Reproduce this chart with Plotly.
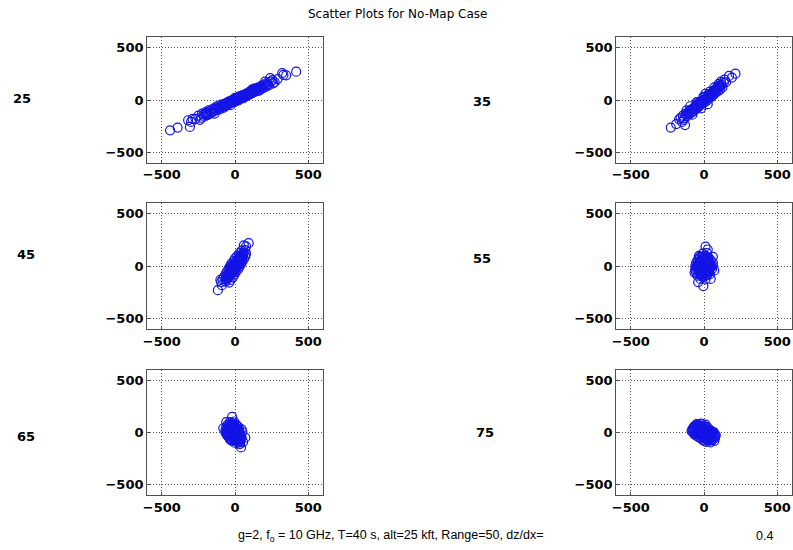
import plotly.graph_objects as go

# ---------------- data ----------------
panel_labels = ["25", "35", "45", "55", "65", "75"]
tick_vals = [-500, 0, 500]
tick_text = ["\u2212500", "0", "500"]

x25 = [-443, -392, -308, -320, -300, -290, 322, 349, 417, 330, 255, 270, 240, 225, 290,
       -270, -250, -240, -225, -210, -200, -190, -180, -175, -160, -150, -145, -130, -125,
       -115, -100, -95, -85, -75, -70, -60, -50, -45, -35, -25, -20, -10, 0, 5, 15, 20, 30,
       35, 45, 50, 60, 70, 75, 85, 95, 100, 110, 120, 130, 140, 150, 160, 170, 180, 190, 200,
       210, 220, 230, 245, 260, 205, -230, -215, -55, -5, 40, 80, 115, 165, -140, -105, 0,
       20, -30, 55, 130,
       -150, -140, -120, -110, -90, -80, -65, -40, -30, -15, -5, 10, 25, 25, 40, 55, 65, 80,
       90, 105, 120, 135, 145, 155, 175, 185, 195, 215, -195, -185, -165, -205, -60, -20,
       10, 65, 100]
y25 = [-290, -264, -258, -194, -210, -180, 258, 236, 271, 240, 190, 170, 210, 150, 200,
       -180, -150, -190, -130, -160, -115, -145, -100, -135, -120, -85, -110, -95, -60,
       -80, -70, -45, -65, -40, -60, -30, -45, -15, -30, -5, -25, 5, -10, 15, 0, 25, 10,
       35, 20, 45, 30, 55, 35, 65, 50, 80, 60, 95, 75, 110, 85, 120, 100, 135, 110, 150,
       125, 165, 140, 175, 160, 175, -170, -140, -55, -20, 40, 45, 100, 90, -130, -90, 20,
       -5, -50, 15, 110,
       -110, -80, -70, -90, -50, -75, -35, -35, -10, -15, 0, 10, 5, 30, 15, 35, 45, 60,
       55, 75, 70, 95, 100, 110, 115, 130, 125, 145, -125, -130, -105, -135, -50, -10,
       -5, 30, 65]

x35 = [-227, -190, -170, -150, 214, 190, 170, 140, -130,
       -160, -145, -135, -125, -115, -105, -100, -90, -85, -75, -70, -60, -55, -45, -40,
       -30, -25, -15, -10, 0, 5, 15, 20, 30, 35, 45, 50, 60, 65, 75, 80, 90, 95, 105, 110,
       120, 125, 135, 100, -80, -120, 70, 10, -20, 40, -50, -95, 115, 150, -140, 25, -5,
       -110, -95, -80, -65, -50, -35, -20, -5, 10, 25, 40, 55, 70, 85, 100, 115, -60, -35,
       -10, 15, 40, 65, 90, -120, -75, -45, 0, 30, 55, 80, 110]
y35 = [-264, -230, -185, -210, 252, 215, 230, 195, -240,
       -170, -150, -175, -130, -155, -110, -135, -95, -120, -80, -105, -60, -85, -45, -70,
       -25, -50, -10, -35, 5, -20, 20, -5, 40, 15, 55, 30, 75, 50, 95, 70, 110, 85, 130, 100,
       150, 120, 165, 155, -140, -100, 120, 60, -80, 80, -20, -60, 175, 170, -190, -40, 30,
       -125, -100, -90, -75, -55, -40, -20, -5, 10, 25, 45, 65, 80, 100, 115, 135, -90, -60,
       -15, 5, 60, 90, 125, -140, -110, -30, 25, 55, 45, 100, 140]

x45 = [-117, 93, 75, -90, -100, 60,
       -95, -65, -40, -85, -55, -30, -75, -45, -15, -65, -35, -5, -55, -25, 5, -45, -10, 20,
       -35, 0, 30, -25, 10, 40, -10, 25, 50, 0, 35, 60, 15, 45, 70, 30, 55, 75, 45, 70,
       -20, 15, -50, 40, -30, 20, -60, 0, 30, 55, -15, 10,
       -60, -50, -40, -35, -30, -20, -15, -5, 0, 5, 15, 20, 25, 35, 40, 45, 50, 55, 60,
       -45, -25, -10, -30, -5, 10, 25, 30, 50, -55, 20, 0, 35,
       -50, -40, -45, -35, -25, -20, -15, -10, -5, 0, 5, 10, 10, 20, 15, 25, 30, 35, 40,
       45, 30, 50, -20, -35, 20]
y45 = [-227, 220, 190, -180, -130, 200,
       -150, -145, -155, -125, -120, -130, -100, -95, -105, -75, -70, -80, -50, -45, -55,
       -25, -20, -30, 0, 5, -5, 25, 30, 20, 50, 55, 45, 75, 80, 70, 100, 105, 95, 125, 130,
       120, 150, 155, -60, 40, -110, 90, -10, 60, -130, -30, 15, 110, 15, -10,
       -120, -100, -90, -80, -60, -45, -30, -15, -5, 10, 20, 35, 45, 65, 75, 90, 100, 115, 130,
       -70, -75, -55, -25, 25, 50, 70, 100, 75, -85, 5, -40, 40,
       -110, -100, -80, -65, -55, -60, -40, -35, -20, -25, 0, 5, 25, 20, 40, 30, 55, 50, 65,
       80, 85, 90, -10, -45, 45]

x55 = [-5, 10, 25, -40, 60, -65, 70, 45,
       -25, 10, -45, -15, 20, -55, -25, 5, 35, -60, -30, 0, 30, 55, -60, -30, 0, 30, 60,
       -55, -25, 5, 35, 60, -45, -15, 15, 45, -30, 0, 30, -10, 20,
       -15, 15, -40, 40, 0, 0,
       -40, -20, 0, 20, 40, -45, -20, 10, 35, -45, -15, 15, 45, -45, -20, 20, 45, -40, -15,
       15, 40, -30, 0, 25, -10, 10, -35, -5, 25, -25,
       -30, -10, 10, 25, -35, -5, 20, -35, -10, 10, 35, -30, -5, 25, -25, 0, 20, -20, 15,
       -15, 15, -50, 50, 0, 0]
y55 = [-188, 187, 160, -150, 90, -60, -40, -120,
       -120, -125, -90, -95, -85, -60, -55, -65, -60, -30, -25, -35, -30, -25, 0, 5, -5, 0, 5,
       30, 35, 25, 30, 35, 60, 55, 65, 60, 90, 95, 85, 120, 125,
       -10, 15, 15, -15, 45, -75,
       -75, -70, -80, -70, -75, -45, -40, -45, -40, -15, -20, -15, -10, 15, 20, 10, 15, 45, 40,
       45, 45, 75, 70, 75, -100, 100, 100, 0, -5, -5,
       -60, -55, -60, -50, -30, -30, -30, 0, 10, -10, 5, 30, 30, 30, 55, 55, 60, -85, -90,
       85, 85, -5, 0, -60, 20]

x65 = [41, 30, -60, -80, 70, -20, 55,
       0, 30, -25, 5, 35, -40, -10, 20, 45, -55, -25, 5, 35, -65, -35, -5, 25, 50,
       -65, -35, -5, 25, 45, -60, -30, 0, 25, -50, -20, 10, -35, -5,
       -20, 10, -45, 15, -10, -30,
       -20, 10, -35, -10, 15, 40, -45, -15, 15, 40, -50, -20, 10, 35, -50, -20, 5, 30, -45,
       -15, 10, -40, -10, 15, -25, -60, -55, 25, 0, -30,
       -25, 0, 25, -35, -10, 20, -40, -15, 15, -35, -10, 15, -30, -5, -15, -20, 5, 30, -45,
       0, -5, 20, 35, -30, 5]
y65 = [-143, -110, 100, 40, -50, 150, -90,
       -100, -95, -75, -70, -80, -50, -45, -55, -50, -25, -20, -30, -25, 0, 5, -5, 0, 5,
       25, 30, 20, 25, 30, 50, 55, 45, 50, 75, 80, 70, 100, 105,
       10, -15, -10, 35, 60, -40,
       -80, -85, -65, -60, -65, -65, -35, -35, -40, -40, -10, -5, -5, -10, 15, 20, 10, 15, 40,
       40, 35, 65, 65, 60, 90, -10, 30, -80, 0, 10,
       -60, -50, -55, -25, -20, -25, 0, 5, 0, 25, 25, 25, 50, 50, 75, -40, -30, -30, 55,
       -75, 85, -95, -110, -10, 15]

x75 = [-50, -20, 10, -70, -40, -10, 20, -80, -50, -20, 10, 40, -80, -50, -20, 10, 40, 65,
       -65, -35, -5, 25, 55, 80, -40, -10, 20, 50, 75, -10, 20, 50, 70, 15, 45,
       -60, 0, 30, -30, 60, -75,
       -60, -35, -5, -65, -35, -5, 25, -65, -35, -5, 25, 50, -65, -35, -5, 25, 50, 70,
       -50, -20, 10, 40, 65, -25, 5, 35, 60, 0, 30, -85,
       -50, -20, 10, -50, -20, 10, 35, -55, -25, 5, 35, 60, -40, -10, 20, 45, 70, -10, 15,
       45, 20, 50, -75, -45, 75]
y75 = [80, 85, 75, 55, 60, 50, 55, 30, 35, 25, 30, 25, 5, 10, 0, 5, 0, 5,
       -20, -15, -25, -20, -15, -25, -45, -40, -50, -45, -50, -70, -65, -75, -80, -90, -95,
       -5, 15, -35, 45, -60, 40,
       65, 70, 65, 45, 45, 40, 40, 20, 20, 15, 15, 10, -10, -5, -10, -5, -5, -10,
       -30, -30, -35, -30, -35, -55, -55, -60, -65, -80, -80, 15,
       55, 55, 50, 30, 35, 25, 25, 5, 5, 0, 5, 0, -20, -20, -15, -20, -25, -45, -45,
       -50, -70, -70, 20, 70, -40]

series_x = [x25, x35, x45, x55, x65, x75]
series_y = [y25, y35, y45, y55, y65, y75]

# ---------------- layout geometry ----------------
W, H = 793, 550
col_dom = [[144 / W, 321 / W], [616 / W, 1.0]]
row_dom = [[1 - 162.7 / H, 1 - 37.3 / H],
           [1 - 329.3 / H, 1 - 203.3 / H],
           [1 - 495.3 / H, 1 - 369.7 / H]]
label_pos = [(18, 99), (481, 102), (22, 254), (481, 258), (22, 436), (484, 432)]

FONT = "DejaVu Sans"
TICKFONT = dict(family=FONT, size=13, color="black", weight="bold")
fig = go.Figure()
layout = dict(
    width=W, height=H,
    margin=dict(l=0, r=0, t=0, b=0),
    paper_bgcolor="white", plot_bgcolor="white",
    showlegend=False,
    font=dict(family=FONT, size=13, color="black"),
)

annotations = []
for i in range(6):
    r, c = divmod(i, 2)
    n = i + 1
    xa = "x" if n == 1 else f"x{n}"
    ya = "y" if n == 1 else f"y{n}"
    fig.add_trace(go.Scatter(
        x=series_x[i], y=series_y[i], mode="markers",
        xaxis=xa, yaxis=ya,
        marker=dict(symbol="circle-open", size=9, color="#1414e6",
                    line=dict(width=1.2, color="#1414e6")),
        hoverinfo="skip",
    ))
    axis_common = dict(
        range=[-600, 600], tickvals=tick_vals, ticktext=tick_text,
        showgrid=True, gridcolor="#555555", griddash="1px,2px", gridwidth=1,
        zeroline=False, showline=True, linecolor="#505050", linewidth=1,
        mirror=True, ticks="inside", ticklen=3, tickcolor="#505050",
        tickfont=TICKFONT,
    )
    layout["xaxis" if n == 1 else f"xaxis{n}"] = dict(
        axis_common, domain=col_dom[c], anchor=ya)
    layout["yaxis" if n == 1 else f"yaxis{n}"] = dict(
        axis_common, domain=row_dom[r], anchor=xa)
    lx, ly = label_pos[i]
    annotations.append(dict(
        text=panel_labels[i], x=lx / W, y=1 - ly / H, xref="paper", yref="paper",
        showarrow=False, xanchor="center", yanchor="middle",
        font=TICKFONT))

annotations.append(dict(
    text="Scatter Plots for No-Map Case", x=396 / W, y=1 - 14 / H,
    xref="paper", yref="paper", showarrow=False, xanchor="center", yanchor="middle",
    font=dict(family=FONT, size=12, color="black")))
annotations.append(dict(
    text="g=2, f<sub>o</sub> = 10 GHz, T=40 s, alt=25 kft, Range=50, dz/dx=",
    x=233 / W, y=1 - 536 / H, xref="paper", yref="paper", showarrow=False,
    xanchor="left", yanchor="middle",
    font=dict(family="Liberation Sans", size=12.5, color="black")))
annotations.append(dict(
    text="0.4", x=765 / W, y=1 - 536 / H, xref="paper", yref="paper",
    showarrow=False, xanchor="center", yanchor="middle",
    font=dict(family="Liberation Sans", size=12.5, color="black")))

layout["annotations"] = annotations
fig.update_layout(**layout)
fig.write_html("out.html")
